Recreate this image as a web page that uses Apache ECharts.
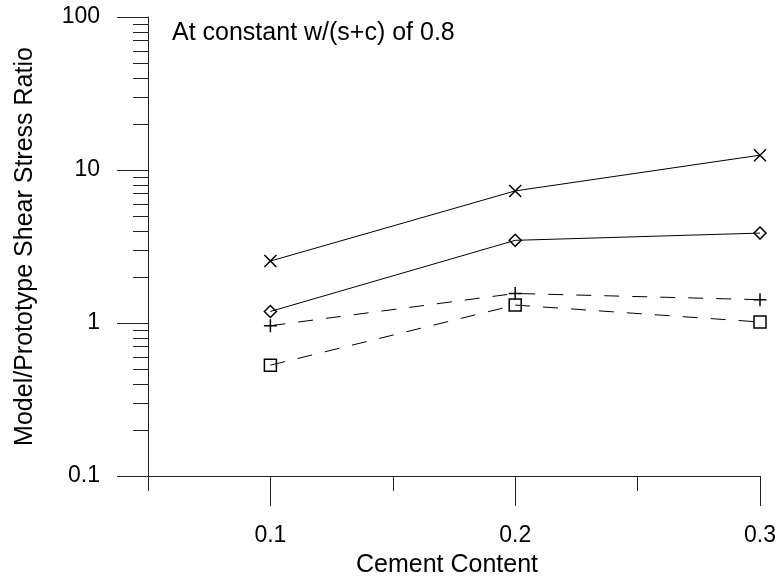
<!DOCTYPE html>
<html>
<head>
<meta charset="utf-8">
<script src="https://cdn.jsdelivr.net/npm/echarts@6/dist/echarts.min.js"></script>
<style>
html,body{margin:0;padding:0;background:#fff;}
#chart{width:778px;height:586px;}
</style>
</head>
<body>
<div id="chart"></div>
<script>
// Data
var cementContent = [0.1, 0.2, 0.3];
var seriesCross   = [2.54, 7.3, 12.5];
var seriesDiamond = [1.19, 3.47, 3.87];
var seriesPlus    = [0.96, 1.56, 1.42];
var seriesSquare  = [0.53, 1.31, 1.015];

var xMajorTicks = [0.1, 0.2, 0.3];
var xMinorTicks = [0.05, 0.15, 0.25];
var yMajorTicks = [0.1, 1, 10, 100];
var yMinorTicks = [0.2,0.3,0.4,0.5,0.6,0.7,0.8,0.9,2,3,4,5,6,7,8,9,20,30,40,50,60,70,80,90];
var annotation = 'At constant w/(s+c) of 0.8';

function pairs(vals){ return cementContent.map(function(x,i){ return [x, vals[i]]; }); }

var FONT = '"Liberation Sans", Arial, sans-serif';
var AX = '#222';

var chart = echarts.init(document.getElementById('chart'), null, {renderer:'canvas'});

function mk(name, data, symbol, size, dashed){
  return {
    name: name, type: 'line', xAxisIndex: 0, yAxisIndex: 0,
    data: pairs(data),
    symbol: symbol, symbolSize: size,
    showAllSymbol: true,
    itemStyle: {color: 'rgba(0,0,0,0)', borderColor: '#000', borderWidth: 1.5},
    lineStyle: {color: '#000', width: 1, type: dashed ? [15, 13] : 'solid'},
    emphasis: {disabled: true},
    animation: false
  };
}

chart.setOption({
  animation: false,
  backgroundColor: '#fff',
  textStyle: {fontFamily: FONT},
  grid: {left: 148, right: 18, top: 17, bottom: 110, containLabel: false, outerBoundsMode: 'none'},
  xAxis: [{
    type: 'value', position: 'bottom', min: 0.05, max: 0.3,
    name: 'Cement Content', nameLocation: 'middle', nameGap: 77,
    nameTextStyle: {fontSize: 25, color: '#000', fontFamily: FONT, padding: [0, 14, 0, 0]},
    axisLine: {show: true, lineStyle: {color: AX, width: 1}},
    axisTick: {show: true, length: 30, customValues: xMajorTicks, lineStyle: {color: AX, width: 1}},
    axisLabel: {show: true, customValues: xMajorTicks, margin: 48, fontSize: 23, color: '#000', fontFamily: FONT,
      formatter: function(v){ return v.toFixed(1); }},
    splitLine: {show: false}
  }, {
    type: 'value', position: 'bottom', min: 0.05, max: 0.3,
    axisLine: {show: false},
    axisTick: {show: true, length: 15, customValues: xMinorTicks, lineStyle: {color: AX, width: 1}},
    axisLabel: {show: false},
    splitLine: {show: false}
  }],
  yAxis: [{
    type: 'log', logBase: 10, position: 'left', min: 0.1, max: 100,
    name: 'Model/Prototype Shear Stress Ratio', nameLocation: 'middle', nameGap: 110,
    nameTextStyle: {fontSize: 25, color: '#000', fontFamily: FONT},
    axisLine: {show: true, lineStyle: {color: AX, width: 1}},
    axisTick: {show: true, length: 31, customValues: yMajorTicks, lineStyle: {color: AX, width: 1}},
    axisLabel: {show: true, customValues: yMajorTicks, margin: 48, fontSize: 23, color: '#000', fontFamily: FONT,
      formatter: function(v){ return String(v); }},
    splitLine: {show: false}
  }, {
    type: 'log', logBase: 10, position: 'left', min: 0.1, max: 100,
    axisLine: {show: false},
    axisTick: {show: true, length: 15, customValues: yMinorTicks, lineStyle: {color: AX, width: 1}},
    axisLabel: {show: false},
    splitLine: {show: false}
  }],
  graphic: [{
    type: 'text', left: 172, top: 21,
    style: {text: annotation, font: '25px ' + FONT, fill: '#000'}
  }],
  series: [
    mk('cross', seriesCross, 'path://M0,0L10,10M10,0L0,10', 12, false),
    mk('diamond', seriesDiamond, 'diamond', 12, false),
    mk('plus', seriesPlus, 'path://M5,0L5,10M0,5L10,5', 13, true),
    mk('square', seriesSquare, 'rect', 12, true)
  ]
});
</script>
</body>
</html>
